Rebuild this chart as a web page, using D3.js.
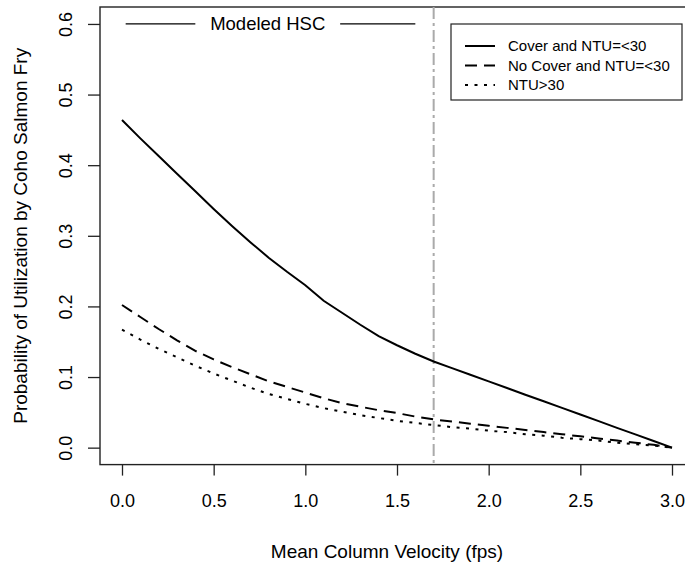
<!DOCTYPE html>
<html>
<head>
<meta charset="utf-8">
<script src="https://cdn.jsdelivr.net/npm/d3@7"></script>
<style>
  body { margin: 0; background: #fff; }
  svg { display: block; font-family: "Liberation Sans", Arial, sans-serif; }
</style>
</head>
<body>
<svg id="chart"></svg>
<script>
// velocity (fps), every 0.1
const velocity = d3.range(0, 31).map(i => i / 10);

const coverLow = [0.464, 0.438, 0.413, 0.388, 0.363, 0.338, 0.314, 0.291, 0.269, 0.249,
  0.230, 0.208, 0.191, 0.174, 0.158, 0.145, 0.133, 0.122, 0.1126, 0.1032,
  0.0938, 0.0845, 0.075, 0.0657, 0.0563, 0.047, 0.0375, 0.028, 0.0188, 0.0094, 0.0];

const noCoverLow = [0.202, 0.185, 0.168, 0.152, 0.137, 0.125, 0.114, 0.104, 0.094, 0.086,
  0.078, 0.070, 0.063, 0.058, 0.053, 0.049, 0.044, 0.040, 0.037, 0.034,
  0.031, 0.028, 0.025, 0.022, 0.019, 0.016, 0.013, 0.010, 0.007, 0.004, 0.0];

const ntuHigh = [0.167, 0.153, 0.140, 0.128, 0.116, 0.105, 0.095, 0.085, 0.076, 0.069,
  0.062, 0.056, 0.051, 0.046, 0.042, 0.038, 0.035, 0.032, 0.029, 0.027,
  0.024, 0.022, 0.019, 0.017, 0.014, 0.012, 0.010, 0.007, 0.005, 0.003, 0.0];

const seriesNames = ["Cover and NTU=<30", "No Cover and NTU=<30", "NTU>30"];
const xTicks = [0, 0.5, 1, 1.5, 2, 2.5, 3];
const yTicks = [0, 0.1, 0.2, 0.3, 0.4, 0.5, 0.6];
const cutoff = 1.7;           // gray dot-dash line
const hscLeft = [0.02, 0.40]; // "Modeled HSC" side lines, at y = 0.6
const hscRight = [1.19, 1.60];

const width = 685, height = 563;
const dashes = [null, "12,7", "3,6.5"];

const svg = d3.select('#chart')
  .attr('width', width)
  .attr('height', height);

// R style: 4% padding around the data range
let x = d3.scaleLinear().domain([-0.12, 3.12]).range([100, 694]);
let y = d3.scaleLinear().domain([-0.024, 0.624]).range([464.6, 7]);

// box
svg.append('rect')
  .attr('x', x(-0.12)).attr('y', y(0.624))
  .attr('width', x(3.12) - x(-0.12))
  .attr('height', y(-0.024) - y(0.624))
  .attr('fill', 'none')
  .attr('stroke', '#222')
  .attr('stroke-width', 1.4);

// x axis
const xAxis = svg.append('g')
  .attr('transform', `translate(0,${y(-0.024)})`)
  .call(d3.axisBottom(x).tickValues(xTicks).tickFormat(d3.format('.1f')).tickSize(11).tickSizeOuter(0).tickPadding(19));
xAxis.select('.domain').remove();
xAxis.selectAll('line').attr('stroke', '#222').attr('stroke-width', 1.3);
xAxis.selectAll('text').attr('font-size', 18).attr('fill', '#000').attr('font-family', null);

// y axis
const yAxis = svg.append('g')
  .attr('transform', `translate(${x(-0.12)},0)`)
  .call(d3.axisLeft(y).tickValues(yTicks).tickFormat(d3.format('.1f')).tickSize(12).tickSizeOuter(0));
yAxis.select('.domain').remove();
yAxis.selectAll('line').attr('stroke', '#222').attr('stroke-width', 1.3);
yAxis.selectAll('text')
  .attr('font-size', 18).attr('fill', '#000').attr('font-family', null)
  .attr('text-anchor', 'middle')
  .attr('x', null).attr('dy', null)
  .attr('transform', 'translate(-34,0) rotate(-90)')
  .attr('dy', '0.35em');

// axis titles
svg.append('text')
  .attr('x', (x(-0.12) + x(3.12)) / 2 - 10)
  .attr('y', 558)
  .attr('text-anchor', 'middle')
  .attr('font-size', 19)
  .text('Mean Column Velocity (fps)');

svg.append('text')
  .attr('transform', `translate(20,${(y(-0.024) + y(0.624)) / 2}) rotate(-90)`)
  .attr('text-anchor', 'middle')
  .attr('dy', '0.35em')
  .attr('font-size', 19)
  .text('Probability of Utilization by Coho Salmon Fry');

// cutoff line
svg.append('line')
  .attr('x1', x(cutoff)).attr('x2', x(cutoff))
  .attr('y1', y(0.624)).attr('y2', y(-0.024))
  .attr('stroke', '#aaaaaa')
  .attr('stroke-width', 2)
  .attr('stroke-dasharray', '12,4,3,4');

// curves
const line = d3.line()
  .x((d, i) => x(velocity[i]))
  .y(d => y(d));

[coverLow, noCoverLow, ntuHigh].forEach((s, i) => {
  svg.append('path')
    .datum(s)
    .attr('d', line)
    .attr('fill', 'none')
    .attr('stroke', '#000')
    .attr('stroke-width', 2)
    .attr('stroke-dasharray', dashes[i]);
});

// "Modeled HSC" label
[hscLeft, hscRight].forEach(seg => {
  svg.append('line')
    .attr('x1', x(seg[0])).attr('x2', x(seg[1]))
    .attr('y1', y(0.6)).attr('y2', y(0.6))
    .attr('stroke', '#000').attr('stroke-width', 1.3);
});
svg.append('text')
  .attr('x', x((hscLeft[1] + hscRight[0]) / 2))
  .attr('y', y(0.6))
  .attr('dy', '0.35em')
  .attr('text-anchor', 'middle')
  .attr('font-size', 18.5)
  .text('Modeled HSC');

// legend
const legend = svg.append('g').attr('transform', 'translate(451,24)');
legend.append('rect')
  .attr('width', 231).attr('height', 76)
  .attr('fill', '#fff')
  .attr('stroke', '#222')
  .attr('stroke-width', 1.2);

seriesNames.forEach((name, i) => {
  const row = legend.append('g').attr('transform', `translate(0,${22 + i * 19.5})`);
  row.append('line')
    .attr('x1', 14).attr('x2', 44)
    .attr('stroke', '#000').attr('stroke-width', 2)
    .attr('stroke-dasharray', dashes[i]);
  row.append('text')
    .attr('x', 57)
    .attr('dy', '0.35em')
    .attr('font-size', 15)
    .text(name);
});
</script>
</body>
</html>
